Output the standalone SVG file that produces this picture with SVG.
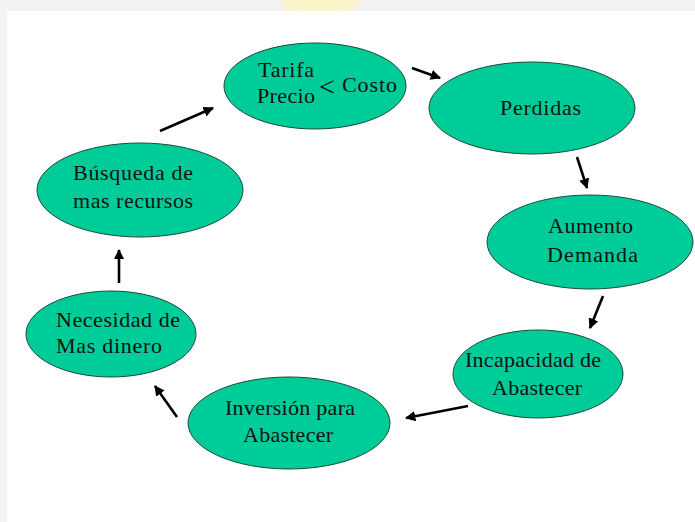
<svg xmlns="http://www.w3.org/2000/svg" width="695" height="522" viewBox="0 0 695 522">
<style>
.n{fill:#00CC99;stroke:#1a4a3a;stroke-width:1}
text{font-family:"Liberation Serif","Times New Roman",serif;font-size:22px;fill:#111}
.c line{stroke:#000;stroke-width:2.6;marker-end:url(#ah)}
</style>
<defs>
<marker id="ah" viewBox="0 0 10 10" refX="9" refY="5" markerWidth="4" markerHeight="4" orient="auto" markerUnits="strokeWidth">
<path d="M0,0 L10,5 L0,10 z" fill="#000"/>
</marker>
</defs>
<rect x="0" y="0" width="695" height="522" fill="#f3f3f3"/>
<ellipse cx="320" cy="4" rx="40" ry="8" fill="#fbf4c8"/>
<rect x="7" y="11" width="688" height="511" fill="#ffffff"/>
<g id="tarifa">
<ellipse class="n" cx="315" cy="86" rx="91" ry="43"/>
<text x="258" y="77" textLength="56" lengthAdjust="spacing">Tarifa</text>
<text x="257" y="103" textLength="58" lengthAdjust="spacing">Precio</text>
<text x="319" y="96" style="font-size:28px">&lt;</text>
<text x="342" y="92" textLength="55" lengthAdjust="spacing">Costo</text>
</g>
<g id="perdidas">
<ellipse class="n" cx="532" cy="108" rx="103" ry="46"/>
<text x="500" y="115" textLength="81" lengthAdjust="spacing">Perdidas</text>
</g>
<g id="aumento">
<ellipse class="n" cx="590" cy="242" rx="103" ry="47"/>
<text x="548" y="233" textLength="85" lengthAdjust="spacing">Aumento</text>
<text x="547" y="262" textLength="91" lengthAdjust="spacing">Demanda</text>
</g>
<g id="incapacidad">
<ellipse class="n" cx="538" cy="374" rx="85" ry="44"/>
<text x="465" y="367" textLength="136" lengthAdjust="spacing">Incapacidad de</text>
<text x="492" y="395" textLength="90" lengthAdjust="spacing">Abastecer</text>
</g>
<g id="inversion">
<ellipse class="n" cx="289" cy="423" rx="101" ry="46"/>
<text x="225" y="415" textLength="130" lengthAdjust="spacing">Inversión para</text>
<text x="243" y="442" textLength="90" lengthAdjust="spacing">Abastecer</text>
</g>
<g id="necesidad">
<ellipse class="n" cx="111" cy="334" rx="85" ry="43"/>
<text x="56" y="327" textLength="124" lengthAdjust="spacing">Necesidad de</text>
<text x="56" y="353" textLength="106" lengthAdjust="spacing">Mas dinero</text>
</g>
<g id="busqueda">
<ellipse class="n" cx="140" cy="190" rx="103" ry="47"/>
<text x="73" y="180" textLength="120" lengthAdjust="spacing">Búsqueda de</text>
<text x="73" y="208" textLength="120" lengthAdjust="spacing">mas recursos</text>
</g>
<g class="c" id="connectors">
<line x1="412" y1="68" x2="440" y2="78"/>
<line x1="577" y1="157" x2="587" y2="188"/>
<line x1="603" y1="296" x2="590" y2="328"/>
<line x1="468" y1="406" x2="406" y2="418"/>
<line x1="177" y1="417" x2="155" y2="386"/>
<line x1="119" y1="283" x2="119" y2="250"/>
<line x1="160" y1="131" x2="213" y2="108"/>
</g>
</svg>
